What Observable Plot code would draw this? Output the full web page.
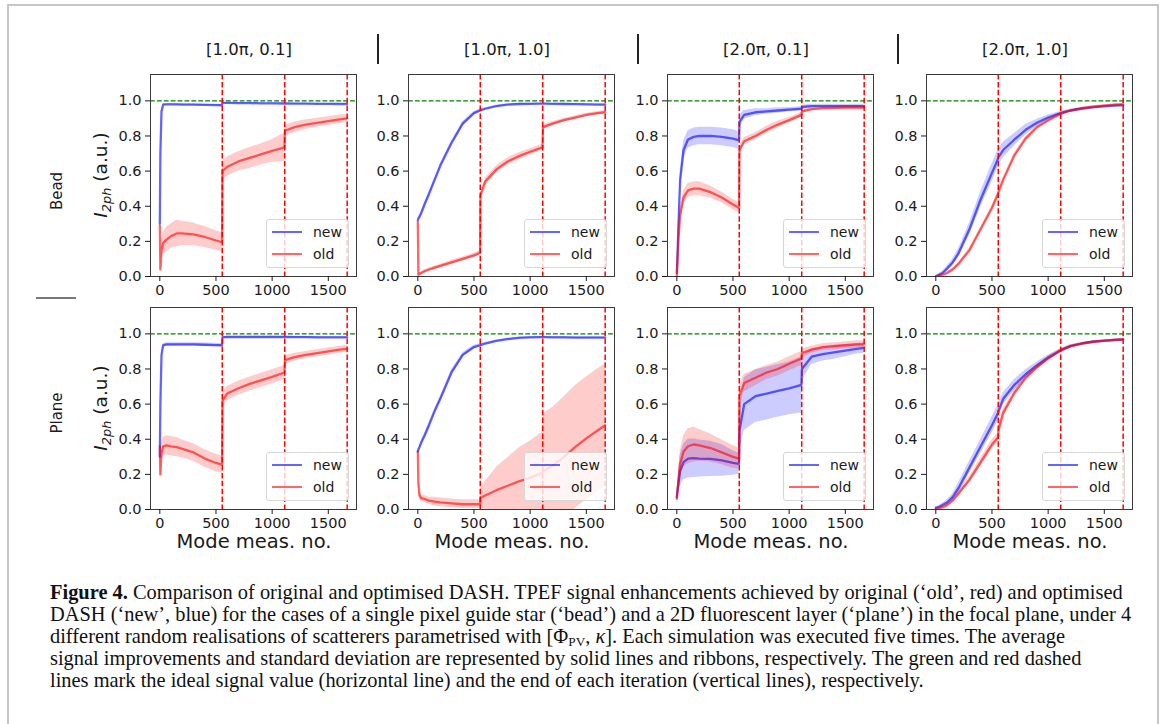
<!DOCTYPE html>
<html><head><meta charset="utf-8">
<script src="https://cdn.jsdelivr.net/npm/d3@7"></script>
<script src="https://cdn.jsdelivr.net/npm/@observablehq/plot@0.6"></script>
<style>
body{margin:0;background:#fff;}
#fig{position:relative;width:1167px;height:724px;overflow:hidden;font-family:"DejaVu Sans",sans-serif;color:#1a1a1a;}
.abs{position:absolute;}
.ctr{transform:translate(-50%,-50%);white-space:nowrap;}
.rot{transform:translate(-50%,-50%) rotate(-90deg);white-space:nowrap;}
.legend{position:absolute;width:81px;height:47px;border:1px solid #d8d8d8;border-radius:3px;background:rgba(255,255,255,0.8);font-size:14px;}
.legend .sw{position:absolute;left:5px;width:30px;height:2.2px;}
.legend .lb{position:absolute;left:46px;transform:translateY(-50%);}
#caption{position:absolute;left:50px;top:581px;font-family:"Liberation Serif",serif;color:#111;white-space:nowrap;line-height:22px;font-size:17px;}
#caption sub{font-size:0.65em;vertical-align:-0.25em;line-height:0;}
</style></head><body><div id="fig"></div>
<script>
// ---------- data ----------
const modeNo = [0, 5, 15, 30, 60, 100, 150, 200, 300, 400, 500, 554, 558, 600, 700, 800, 900, 1000, 1110, 1114, 1200, 1300, 1400, 1500, 1600, 1668];
const columnTitles = ["[1.0π, 0.1]", "[1.0π, 1.0]", "[2.0π, 0.1]", "[2.0π, 1.0]"];
const rowTitles = ["Bead", "Plane"];
const iterationEnds = [556, 1112, 1668];
const idealSignal = [1.0];
const xTicks = [0, 500, 1000, 1500];
const yTicks = [0, 0.2, 0.4, 0.6, 0.8, 1.0];
const seriesNames = ["new", "old"];

const beadA_new = [0.30, 0.70, 0.94, 0.978, 0.980, 0.980, 0.980, 0.979, 0.978, 0.977, 0.976, 0.975, 0.988, 0.988, 0.987, 0.987, 0.986, 0.986, 0.985, 0.985, 0.984, 0.984, 0.983, 0.983, 0.982, 0.982];
const beadA_newSd = [0.01, 0.02, 0.01, 0.005, 0.004, 0.004, 0.004, 0.004, 0.004, 0.004, 0.004, 0.004, 0.003, 0.003, 0.003, 0.003, 0.003, 0.003, 0.003, 0.003, 0.003, 0.003, 0.003, 0.003, 0.003, 0.003];
const beadA_old = [0.29, 0.04, 0.15, 0.19, 0.21, 0.23, 0.245, 0.245, 0.24, 0.225, 0.205, 0.195, 0.60, 0.625, 0.655, 0.675, 0.695, 0.715, 0.735, 0.83, 0.85, 0.865, 0.875, 0.885, 0.895, 0.90];
const beadA_oldSd = [0.01, 0.02, 0.05, 0.06, 0.07, 0.07, 0.075, 0.07, 0.065, 0.06, 0.055, 0.055, 0.055, 0.055, 0.055, 0.06, 0.06, 0.065, 0.08, 0.03, 0.03, 0.028, 0.026, 0.025, 0.024, 0.022];

const beadB_new = [0.32, 0.33, 0.34, 0.36, 0.41, 0.47, 0.55, 0.63, 0.76, 0.87, 0.93, 0.945, 0.946, 0.955, 0.97, 0.978, 0.982, 0.983, 0.984, 0.984, 0.983, 0.982, 0.981, 0.980, 0.979, 0.978];
const beadB_newSd = [0.01, 0.01, 0.01, 0.012, 0.012, 0.012, 0.012, 0.012, 0.012, 0.012, 0.01, 0.008, 0.008, 0.006, 0.005, 0.005, 0.004, 0.004, 0.004, 0.004, 0.004, 0.004, 0.004, 0.004, 0.004, 0.004];
const beadB_old = [0.31, 0.01, 0.015, 0.02, 0.03, 0.04, 0.05, 0.06, 0.08, 0.10, 0.12, 0.135, 0.46, 0.54, 0.61, 0.655, 0.685, 0.71, 0.735, 0.85, 0.87, 0.89, 0.905, 0.92, 0.93, 0.935];
const beadB_oldSd = [0.005, 0.005, 0.006, 0.007, 0.008, 0.009, 0.01, 0.01, 0.012, 0.012, 0.012, 0.012, 0.015, 0.02, 0.02, 0.02, 0.02, 0.018, 0.018, 0.012, 0.012, 0.01, 0.01, 0.01, 0.01, 0.01];

const beadC_new = [0.02, 0.10, 0.30, 0.55, 0.72, 0.78, 0.795, 0.80, 0.80, 0.795, 0.785, 0.775, 0.88, 0.92, 0.935, 0.94, 0.945, 0.95, 0.955, 0.965, 0.97, 0.97, 0.97, 0.97, 0.97, 0.97];
const beadC_newSd = [0.01, 0.03, 0.05, 0.05, 0.05, 0.05, 0.05, 0.05, 0.05, 0.05, 0.05, 0.05, 0.04, 0.025, 0.02, 0.015, 0.015, 0.012, 0.012, 0.01, 0.01, 0.01, 0.01, 0.01, 0.01, 0.01];
const beadC_old = [0.0, 0.08, 0.22, 0.35, 0.45, 0.49, 0.50, 0.50, 0.48, 0.45, 0.41, 0.39, 0.72, 0.77, 0.80, 0.835, 0.865, 0.89, 0.92, 0.94, 0.953, 0.958, 0.96, 0.962, 0.962, 0.962];
const beadC_oldSd = [0.005, 0.02, 0.03, 0.04, 0.04, 0.04, 0.04, 0.04, 0.035, 0.03, 0.03, 0.03, 0.025, 0.02, 0.02, 0.02, 0.02, 0.015, 0.015, 0.012, 0.01, 0.01, 0.01, 0.01, 0.01, 0.01];

const beadD_new = [0.0, 0.002, 0.005, 0.01, 0.02, 0.045, 0.08, 0.13, 0.27, 0.44, 0.59, 0.67, 0.68, 0.72, 0.78, 0.835, 0.875, 0.905, 0.93, 0.931, 0.945, 0.955, 0.963, 0.968, 0.973, 0.975];
const beadD_newSd = [0.005, 0.005, 0.005, 0.008, 0.01, 0.015, 0.02, 0.025, 0.035, 0.045, 0.05, 0.05, 0.05, 0.045, 0.035, 0.03, 0.02, 0.015, 0.01, 0.01, 0.008, 0.006, 0.005, 0.005, 0.005, 0.005];
const beadD_old = [0.0, 0.001, 0.003, 0.006, 0.01, 0.02, 0.04, 0.07, 0.15, 0.27, 0.39, 0.47, 0.48, 0.55, 0.69, 0.785, 0.85, 0.89, 0.925, 0.927, 0.945, 0.958, 0.967, 0.973, 0.978, 0.98];
const beadD_oldSd = [0.003, 0.003, 0.003, 0.004, 0.005, 0.006, 0.008, 0.01, 0.012, 0.012, 0.015, 0.015, 0.015, 0.015, 0.015, 0.012, 0.01, 0.01, 0.008, 0.008, 0.006, 0.005, 0.005, 0.005, 0.005, 0.005];

const planeA_new = [0.30, 0.60, 0.88, 0.935, 0.94, 0.94, 0.94, 0.94, 0.94, 0.938, 0.936, 0.935, 0.98, 0.982, 0.982, 0.982, 0.982, 0.982, 0.982, 0.982, 0.981, 0.981, 0.98, 0.98, 0.98, 0.98];
const planeA_newSd = [0.02, 0.03, 0.02, 0.01, 0.01, 0.01, 0.01, 0.01, 0.01, 0.01, 0.01, 0.01, 0.005, 0.005, 0.005, 0.005, 0.005, 0.005, 0.005, 0.005, 0.005, 0.005, 0.005, 0.005, 0.005, 0.005];
const planeA_old = [0.36, 0.20, 0.32, 0.36, 0.365, 0.36, 0.355, 0.345, 0.325, 0.29, 0.265, 0.255, 0.62, 0.66, 0.69, 0.715, 0.735, 0.755, 0.78, 0.85, 0.868, 0.88, 0.89, 0.90, 0.91, 0.915];
const planeA_oldSd = [0.02, 0.04, 0.05, 0.05, 0.055, 0.055, 0.055, 0.05, 0.05, 0.05, 0.05, 0.05, 0.045, 0.04, 0.04, 0.04, 0.04, 0.04, 0.04, 0.025, 0.022, 0.02, 0.02, 0.02, 0.02, 0.018];

const planeB_new = [0.33, 0.34, 0.355, 0.38, 0.42, 0.48, 0.56, 0.63, 0.78, 0.88, 0.925, 0.935, 0.936, 0.945, 0.96, 0.97, 0.977, 0.98, 0.981, 0.981, 0.98, 0.98, 0.979, 0.979, 0.978, 0.978];
const planeB_newSd = [0.01, 0.01, 0.01, 0.012, 0.015, 0.015, 0.015, 0.015, 0.015, 0.012, 0.01, 0.008, 0.008, 0.006, 0.005, 0.005, 0.005, 0.005, 0.005, 0.005, 0.005, 0.005, 0.005, 0.005, 0.005, 0.005];
const planeB_old = [0.33, 0.15, 0.08, 0.065, 0.06, 0.05, 0.045, 0.04, 0.035, 0.03, 0.03, 0.03, 0.065, 0.08, 0.11, 0.135, 0.16, 0.18, 0.21, 0.215, 0.25, 0.30, 0.355, 0.405, 0.45, 0.48];
const planeB_oldSd = [0.01, 0.02, 0.02, 0.02, 0.02, 0.02, 0.025, 0.025, 0.025, 0.025, 0.025, 0.025, 0.05, 0.08, 0.13, 0.16, 0.19, 0.21, 0.23, 0.33, 0.33, 0.34, 0.35, 0.35, 0.35, 0.35];

const planeC_new = [0.07, 0.10, 0.15, 0.22, 0.27, 0.29, 0.292, 0.29, 0.288, 0.28, 0.265, 0.26, 0.45, 0.60, 0.645, 0.66, 0.675, 0.69, 0.71, 0.80, 0.87, 0.885, 0.895, 0.905, 0.915, 0.92];
const planeC_newSd = [0.01, 0.03, 0.06, 0.09, 0.10, 0.11, 0.11, 0.105, 0.10, 0.09, 0.07, 0.06, 0.12, 0.15, 0.15, 0.15, 0.15, 0.15, 0.16, 0.07, 0.045, 0.04, 0.04, 0.035, 0.03, 0.03];
const planeC_old = [0.06, 0.10, 0.17, 0.26, 0.33, 0.36, 0.37, 0.365, 0.35, 0.325, 0.30, 0.29, 0.65, 0.72, 0.75, 0.78, 0.80, 0.83, 0.86, 0.89, 0.91, 0.925, 0.93, 0.935, 0.94, 0.94];
const planeC_oldSd = [0.01, 0.03, 0.05, 0.07, 0.09, 0.10, 0.10, 0.09, 0.08, 0.07, 0.065, 0.06, 0.06, 0.05, 0.045, 0.04, 0.04, 0.04, 0.04, 0.025, 0.02, 0.02, 0.02, 0.02, 0.02, 0.02];

const planeD_new = [0.01, 0.01, 0.012, 0.015, 0.025, 0.04, 0.07, 0.12, 0.24, 0.36, 0.48, 0.55, 0.56, 0.63, 0.71, 0.77, 0.82, 0.865, 0.905, 0.907, 0.93, 0.945, 0.955, 0.96, 0.965, 0.967];
const planeD_newSd = [0.005, 0.005, 0.005, 0.006, 0.01, 0.015, 0.02, 0.03, 0.035, 0.04, 0.045, 0.045, 0.04, 0.035, 0.03, 0.025, 0.02, 0.015, 0.01, 0.01, 0.008, 0.006, 0.005, 0.005, 0.005, 0.005];
const planeD_old = [0.005, 0.005, 0.006, 0.008, 0.012, 0.025, 0.05, 0.09, 0.17, 0.27, 0.37, 0.41, 0.45, 0.55, 0.665, 0.75, 0.81, 0.86, 0.905, 0.906, 0.93, 0.945, 0.955, 0.962, 0.966, 0.968];
const planeD_oldSd = [0.003, 0.003, 0.003, 0.004, 0.006, 0.008, 0.01, 0.015, 0.02, 0.025, 0.025, 0.025, 0.025, 0.025, 0.02, 0.018, 0.015, 0.012, 0.01, 0.01, 0.008, 0.006, 0.005, 0.005, 0.005, 0.005];

const panelSeries = [
  [[beadA_new, beadA_newSd, beadA_old, beadA_oldSd], [beadB_new, beadB_newSd, beadB_old, beadB_oldSd],
   [beadC_new, beadC_newSd, beadC_old, beadC_oldSd], [beadD_new, beadD_newSd, beadD_old, beadD_oldSd]],
  [[planeA_new, planeA_newSd, planeA_old, planeA_oldSd], [planeB_new, planeB_newSd, planeB_old, planeB_oldSd],
   [planeC_new, planeC_newSd, planeC_old, planeC_oldSd], [planeD_new, planeD_newSd, planeD_old, planeD_oldSd]]
];

// ---------- layout ----------
const colLeft = [150, 408, 667, 926];
const rowTop = [74, 307];
const frameW = 206, frameH = 202;
const M = {l: 46, r: 6, t: 6, b: 26};
const colors = {new: "blue", old: "red"};
const fig = document.getElementById("fig");

function add(html, cls, style) {
  const d = document.createElement("div");
  d.className = "abs " + (cls || "");
  Object.assign(d.style, style);
  d.innerHTML = html;
  fig.appendChild(d);
  return d;
}

// outer border
add("", "", {left: "7px", top: "4px", width: "1148px", height: "760px", border: "2px solid #c6c6c6"});

function panel(r, c) {
  const [nm, ns, om, os] = panelSeries[r][c];
  const rows = [];
  [["new", nm, ns], ["old", om, os]].forEach(([name, mean, sd]) => {
    modeNo.forEach((x, i) => rows.push({series: name, x, y: mean[i], lo: mean[i] - sd[i], hi: mean[i] + sd[i]}));
  });
  const marks = [];
  for (const s of seriesNames) {
    const data = rows.filter(d => d.series === s);
    marks.push(Plot.lineY(data, {x: "x", y: "y", stroke: colors[s], strokeOpacity: 0.6, strokeWidth: 2.3, clip: true}));
    marks.push(Plot.areaY(data, {x: "x", y1: "lo", y2: "hi", fill: colors[s], fillOpacity: 0.2, clip: true}));
  }
  marks.push(Plot.ruleY(idealSignal, {stroke: "green", strokeWidth: 1.3, strokeDasharray: "4.8,2.1"}));
  marks.push(Plot.ruleX(iterationEnds, {stroke: "red", strokeWidth: 1.5, strokeDasharray: "5.5,2.4"}));
  marks.push(Plot.frame({stroke: "#3a3a3a", strokeWidth: 1}));
  marks.push(Plot.axisX({ticks: xTicks, tickFormat: d3.format("d"), tickSize: 5, tickPadding: 3, fontSize: 14.5, label: null}));
  marks.push(Plot.axisY({ticks: yTicks, tickFormat: d3.format(".1f"), tickSize: 5, tickPadding: 4, fontSize: 14.5, label: null}));
  const svg = Plot.plot({
    width: M.l + frameW + M.r, height: M.t + frameH + M.b,
    marginLeft: M.l, marginRight: M.r, marginTop: M.t, marginBottom: M.b,
    x: {domain: [-83, 1751]},
    y: {domain: [0, 1.15]},
    style: {fontFamily: "DejaVu Sans", fontSize: "14px", background: "transparent", color: "#1a1a1a", overflow: "visible"},
    marks
  });
  const wrap = add("", "", {left: (colLeft[c] - M.l) + "px", top: (rowTop[r] - M.t) + "px"});
  wrap.appendChild(svg);
  // legend (lower right, inside frame)
  const lg = document.createElement("div");
  lg.className = "legend";
  lg.style.left = (M.l + frameW - 7 - 83) + "px";
  lg.style.top = (M.t + frameH - 8 - 49) + "px";
  seriesNames.forEach((s, i) => {
    const y = 12 + i * 22;
    lg.innerHTML += `<div class="sw" style="top:${y - 1}px;background:${colors[s]};opacity:0.6"></div><div class="lb" style="top:${y}px">${s}</div>`;
  });
  wrap.appendChild(lg);
}

for (let r = 0; r < 2; r++) for (let c = 0; c < 4; c++) panel(r, c);

// column titles and separators
columnTitles.forEach((t, c) => {
  add(t, "ctr", {left: (colLeft[c] + frameW / 2 - 4) + "px", top: "49px", fontSize: "16.5px"});
});
[377, 637, 897].forEach(x => add("", "", {left: x + "px", top: "34px", width: "1.5px", height: "30px", background: "#222"}));

// row titles, separator, y labels
rowTitles.forEach((t, r) => {
  add(t, "rot", {left: "57px", top: (r === 0 ? 191 : 413) + "px", fontSize: "15px"});
  add('<i>I</i><sub style="font-size:0.7em;font-style:italic">2ph</sub> (a.u.)', "rot",
      {left: "102px", top: (rowTop[r] + frameH / 2) + "px", fontSize: "18.5px"});
});
add("", "", {left: "36px", top: "297px", width: "40px", height: "1.5px", background: "#777"});

// x labels
for (let c = 0; c < 4; c++) add("Mode meas. no.", "ctr", {left: (colLeft[c] + frameW / 2 + 1) + "px", top: "541px", fontSize: "19.5px"});

// caption
const captionLines = [
  "<b>Figure 4.</b> Comparison of original and optimised DASH. TPEF signal enhancements achieved by original (‘old’, red) and optimised",
  "DASH (‘new’, blue) for the cases of a single pixel guide star (‘bead’) and a 2D fluorescent layer (‘plane’) in the focal plane, under 4",
  "different random realisations of scatterers parametrised with [Φ<sub>PV</sub>, <i>κ</i>]. Each simulation was executed five times. The average",
  "signal improvements and standard deviation are represented by solid lines and ribbons, respectively. The green and red dashed",
  "lines mark the ideal signal value (horizontal line) and the end of each iteration (vertical lines), respectively."
];
const cap = add(captionLines.map(l => `<span>${l}</span>`).join("<br>"), "", {});
cap.id = "caption";
// fit caption width to the figure text block (first line spans ~1073px)
const w0 = cap.querySelector("span").getBoundingClientRect().width;
cap.style.fontSize = (17 * 1073 / w0).toFixed(2) + "px";
</script></body></html>
